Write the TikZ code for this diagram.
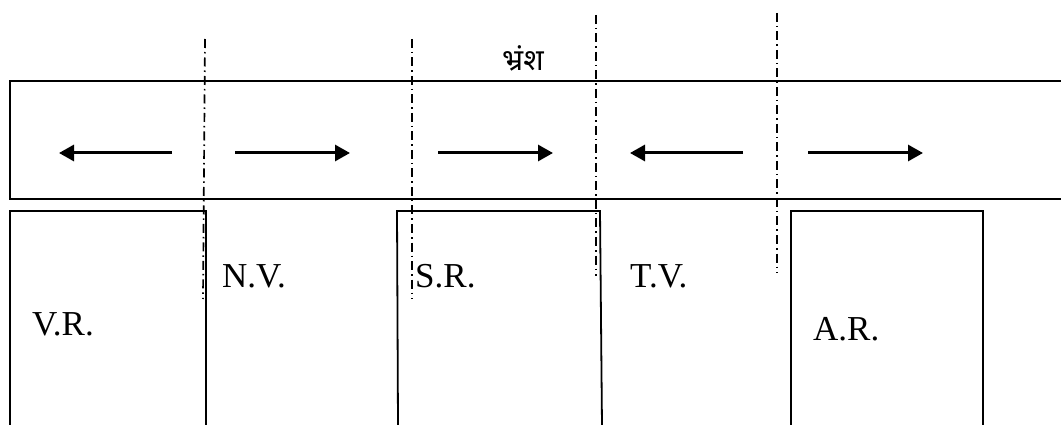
\documentclass[tikz,border=0pt]{standalone}
\usepackage{fontspec}
\setmainfont{Liberation Serif}
\newfontfamily\deva[Script=Devanagari]{Noto Sans}
\usetikzlibrary{arrows.meta}
\begin{document}
\begin{tikzpicture}[x=1pt,y=-1pt,
  frame/.style={line width=1.8pt},
  flow/.style={line width=3pt,-{Triangle[length=15pt,width=16pt]}},
  fault/.style={line width=1.7pt,dash pattern=on 9pt off 4pt on 1.5pt off 4pt},
  lab/.style={inner sep=0pt,anchor=base west,font=\fontsize{35}{40}\selectfont}]
\useasboundingbox (0,0) rectangle (1061,425);
% main strip
\draw[frame] (1062,81) -- (10,81) -- (10,199) -- (1062,199);
% arrows
\coordinate (a1s) at (172,153); \coordinate (a1e) at (59,153);
\coordinate (a2s) at (235,153); \coordinate (a2e) at (350,153);
\coordinate (a3s) at (438,153); \coordinate (a3e) at (553,153);
\coordinate (a4s) at (743,153); \coordinate (a4e) at (630,153);
\coordinate (a5s) at (808,153); \coordinate (a5e) at (923,153);
\draw[flow] (a1s) -- (a1e);
\draw[flow] (a2s) -- (a2e);
\draw[flow] (a3s) -- (a3e);
\draw[flow] (a4s) -- (a4e);
\draw[flow] (a5s) -- (a5e);
% blocks
\draw[frame] (10,426) -- (10,211) -- (206,211) -- (206,426);
\draw[frame] (398,426) -- (397,211) -- (600,211) -- (602,426);
\draw[frame] (791,426) -- (791,211) -- (983,211) -- (983,426);
% fault lines
\draw[fault] (205,39) -- (203,299);
\draw[fault] (412,39) -- (412,299);
\draw[fault] (596,15) -- (596,276);
\draw[fault] (777,13) -- (777,273);
% labels
\node[lab] (vr) at (32,335) {V.R.};
\node[lab] (nv) at (222,287) {N.V.};
\node[lab] (sr) at (415,287) {S.R.};
\node[lab] (tv) at (630,287) {T.V.};
\node[lab] (ar) at (813,340) {A.R.};
\node[inner sep=0pt,anchor=base west,font=\deva\fontsize{30}{34}\selectfont] (bh) at (502,71) {भ्रंश};
\end{tikzpicture}
\end{document}
